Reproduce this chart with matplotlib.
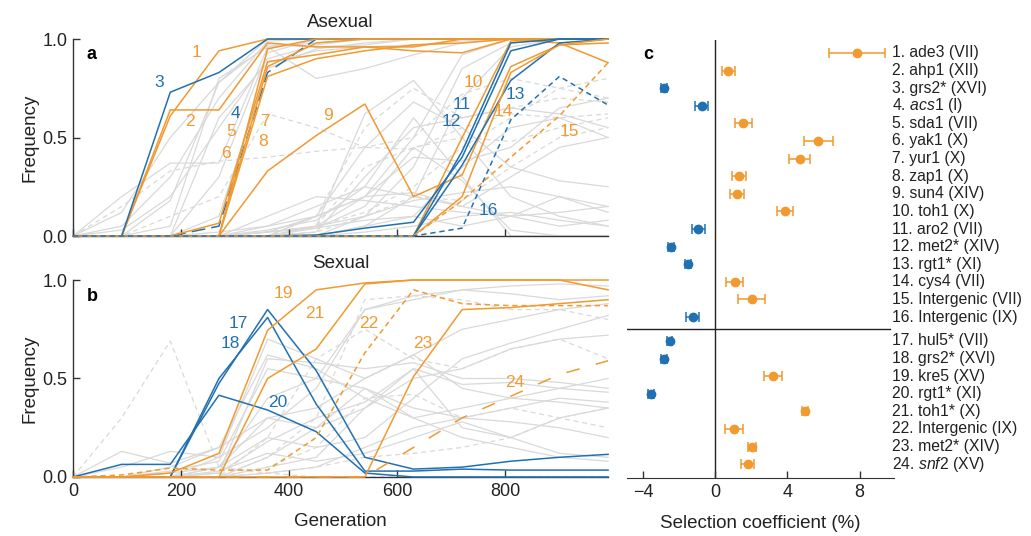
import numpy as np
import matplotlib.pyplot as plt
from matplotlib import transforms

plt.rcParams['font.family'] = ['Liberation Sans', 'DejaVu Sans']
plt.rcParams['mathtext.fontset'] = 'custom'
plt.rcParams['mathtext.rm'] = 'Liberation Sans'
plt.rcParams['mathtext.it'] = 'Liberation Sans:italic'

ORANGE = '#F09A30'
BLUE = '#2171B2'
GREY = '#D9D9D9'
fz = 13.5      # axis labels, titles
fz_tick = 13
fz_num = 12.5  # trajectory numbers
fz_mut = 11.3  # mutation names in c

# generations sampled every 90
gens = np.arange(0, 991, 90)

# --- panel a: asexual, highlighted trajectories ---
asex_1 = [0, 0, 0.61, 0.94, 1, 1, 1, 1, 1, 1, 1, 1]
asex_2 = [0, 0, 0.64, 0.64, 0.98, 0.96, 0.96, 0.94, 0.93, 1, 1, 1]
asex_3 = [0, 0, 0.73, 0.83, 1, 1, 1, 1, 1, 1, 1, 1]
asex_4 = [0, 0, 0, 0.05, 0.83, 1, 1, 1, 1, 1, 1, 1]
asex_5 = [0, 0, 0, 0, 0.95, 1, 1, 1, 1, 1, 1, 1]
asex_6 = [0, 0, 0, 0.065, 0.885, 0.92, 0.96, 0.96, 1, 1, 1, 1]
asex_7 = [0, 0, 0, 0, 0.86, 0.98, 1, 1, 1, 1, 1, 1]
asex_8 = [0, 0, 0, 0, 0.81, 0.9, 0.94, 0.97, 0.98, 1, 0.98, 0.88]
asex_9 = [0, 0, 0, 0, 0.33, 0.51, 0.67, 0.2, 0.31, 0.86, 0.97, 0.98]
asex_10 = [0, 0, 0, 0, 0, 0, 0, 0, 0.5, 0.99, 1, 1]
asex_11 = [0, 0, 0, 0, 0, 0, 0, 0, 0.43, 0.98, 1, 1]
asex_12 = [0, 0, 0, 0, 0, 0.005, 0.04, 0.07, 0.4, 0.94, 1, 1]
asex_13 = [0, 0, 0, 0, 0, 0, 0, 0, 0.36, 0.79, 0.98, 1]
asex_14 = [0, 0, 0, 0, 0, 0, 0, 0, 0.2, 0.83, 0.97, 1]
asex_15 = [0, 0, 0, 0, 0, 0, 0, 0, 0.18, 0.4, 0.61, 0.88]
asex_16 = [0, 0, 0, 0, 0, 0, 0, 0, 0.04, 0.59, 0.81, 0.665]
asex_lines = [asex_1, asex_2, asex_3, asex_4, asex_5, asex_6, asex_7, asex_8,
              asex_9, asex_10, asex_11, asex_12, asex_13, asex_14, asex_15, asex_16]

# background (grey) trajectories, asexual
asex_grey = [
    [0, 0.12, 0.50, 0.78, 1, 1, 1, 1, 1, 1, 1, 1],
    [0, 0.05, 0.30, 0.70, 0.99, 1, 1, 1, 1, 1, 1, 1],
    [0, 0.2, 0.37, 0.37, 0.96, 0.98, 1, 1, 1, 1, 1, 1],
    [0, 0, 0.18, 0.78, 0.97, 0.96, 0.97, 1, 1, 1, 1, 1],
    [0, 0, 0.05, 0.80, 0.96, 0.80, 0.85, 0.92, 0.98, 1, 1, 1],
    [0, 0, 0, 0.30, 0.93, 1, 1, 1, 1, 1, 1, 1],
    [0, 0, 0, 0.6, 0.88, 0.94, 0.96, 0.97, 0.99, 1, 1, 1],
    [0, 0.03, 0.2, 0.55, 0.9, 0.97, 1, 1, 1, 1, 1, 1],
    [0, 0, 0, 0.1, 0.85, 0.95, 0.98, 1, 1, 1, 1, 1],
    [0, 0, 0, 0, 0, 0.05, 0.62, 0.79, 0.5, 0.2, 0.1, 0.05],
    [0, 0, 0, 0, 0.02, 0.1, 0.45, 0.68, 0.55, 0.35, 0.28, 0.25],
    [0, 0, 0, 0, 0, 0.02, 0.3, 0.55, 0.6, 0.65, 0.62, 0.55],
    [0, 0, 0, 0, 0.05, 0.1, 0.2, 0.5, 0.92, 1, 1, 1],
    [0, 0, 0, 0, 0, 0, 0.1, 0.35, 0.85, 0.98, 1, 1],
    [0, 0, 0, 0, 0, 0, 0.05, 0.2, 0.7, 0.96, 1, 1],
    [0, 0, 0, 0, 0, 0.04, 0.15, 0.45, 0.28, 0.03, 0, 0],
    [0, 0, 0, 0, 0.03, 0.08, 0.25, 0.6, 0.3, 0, 0, 0],
    [0, 0, 0, 0, 0, 0.1, 0.2, 0.4, 0.38, 0.45, 0.65, 0.7],
    [0, 0, 0, 0, 0, 0, 0.05, 0.1, 0.35, 0.55, 0.6, 0.5],
    [0, 0, 0, 0, 0.02, 0.05, 0.2, 0.22, 0.15, 0.3, 0.45, 0.5],
    [0, 0, 0, 0, 0.1, 0.2, 0.18, 0.15, 0.12, 0.1, 0.12, 0.15],
    [0, 0, 0, 0.02, 0.05, 0.15, 0.25, 0.2, 0.15, 0.1, 0.05, 0.08],
    [0, 0, 0, 0, 0, 0.05, 0.1, 0.18, 0.22, 0.25, 0.2, 0.15],
    [0, 0, 0, 0, 0.02, 0.04, 0.08, 0.1, 0.05, 0.1, 0.2, 0.12],
    [0, 0, 0, 0, 0, 0, 0.02, 0.05, 0.1, 0.12, 0.08, 0.05],
]
asex_grey_dashed = [
    [0, 0.15, 0.33, 0.38, 0.40, 0.43, 0.45, 0.44, 0.55, 0.62, 0.6, 0.62],
    [0, 0, 0.1, 0.2, 0.62, 0.55, 0.45, 0.5, 0.72, 0.8, 0.75, 0.7],
    [0, 0, 0, 0, 0, 0.1, 0.55, 0.75, 0.6, 0.65, 0.7, 0.68],
    [0, 0, 0, 0, 0, 0.05, 0.35, 0.45, 0.5, 0.48, 0.55, 0.6],
    [0, 0, 0, 0, 0.02, 0.05, 0.12, 0.25, 0.45, 0.6, 0.75, 0.8],
    [0, 0, 0, 0, 0, 0.02, 0.1, 0.2, 0.18, 0.35, 0.5, 0.55],
]

# --- panel b: sexual ---
sex_17 = [0, 0, 0, 0.475, 0.85, 0.54, 0.10, 0.04, 0.05, 0.08, 0.10, 0.115]
sex_18 = [0, 0, 0, 0.50, 0.81, 0.37, 0.03, 0.03, 0.04, 0.035, 0.035, 0.035]
sex_19 = [0, 0, 0.02, 0.12, 0.745, 0.95, 0.985, 1, 1, 1, 1, 0.95]
sex_20 = [0, 0.064, 0.064, 0.415, 0.34, 0.23, 0.02, 0, 0, 0, 0, 0]
sex_21 = [0, 0, 0, 0, 0.50, 0.65, 0.98, 1, 1, 1, 1, 1]
sex_22 = [0, 0.01, 0.045, 0.035, 0.035, 0.2, 0.63, 0.95, 0.88, 0.87, 0.87, 0.87]
sex_23 = [0, 0, 0, 0, 0, 0, 0, 0.51, 0.85, 0.86, 0.88, 0.90]
sex_24 = [0, 0, 0, 0, 0, 0, 0, 0.15, 0.30, 0.41, 0.52, 0.59]
sex_lines = [sex_17, sex_18, sex_19, sex_20, sex_21, sex_22, sex_23, sex_24]

sex_grey = [
    [0, 0.13, 0.07, 0.15, 0.62, 0.55, 0.4, 0.3, 0.35, 0.4, 0.38, 0.35],
    [0, 0.05, 0.13, 0.1, 0.7, 0.6, 0.5, 0.62, 0.45, 0.4, 0.45, 0.5],
    [0, 0, 0.02, 0.05, 0.4, 0.5, 0.85, 0.9, 0.95, 0.97, 0.98, 0.97],
    [0, 0, 0.05, 0.15, 0.3, 0.35, 0.5, 0.62, 0.75, 0.8, 0.85, 0.88],
    [0, 0, 0, 0.1, 0.25, 0.45, 0.85, 0.92, 0.95, 0.93, 0.9, 0.92],
    [0, 0, 0, 0.05, 0.2, 0.15, 0.2, 0.4, 0.6, 0.68, 0.75, 0.82],
    [0, 0, 0, 0.02, 0.18, 0.3, 0.38, 0.55, 0.47, 0.48, 0.45, 0.43],
    [0, 0, 0, 0.05, 0.3, 0.25, 0.35, 0.55, 0.25, 0.2, 0.3, 0.35],
    [0, 0, 0.03, 0.08, 0.55, 0.5, 0.45, 0.35, 0.3, 0.28, 0.25, 0.2],
    [0, 0, 0, 0, 0.1, 0.25, 0.45, 0.3, 0.2, 0.15, 0.1, 0.08],
    [0, 0, 0, 0, 0.05, 0.1, 0.35, 0.5, 0.55, 0.65, 0.7, 0.72],
    [0, 0, 0, 0.03, 0.12, 0.08, 0.12, 0.2, 0.28, 0.2, 0.12, 0.1],
    [0, 0, 0, 0, 0.02, 0.05, 0.15, 0.25, 0.3, 0.35, 0.4, 0.38],
    [0, 0, 0, 0.02, 0.6, 0.58, 0.55, 0.58, 0.5, 0.5, 0.48, 0.45],
]
sex_grey_dashed = [
    [0, 0.3, 0.69, 0.05, 0.02, 0, 0, 0, 0, 0, 0, 0],
    [0, 0, 0, 0, 0.1, 0.3, 0.9, 0.92, 0.9, 0.85, 0.85, 0.8],
    [0, 0, 0, 0, 0.2, 0.6, 0.75, 0.6, 0.55, 0.65, 0.7, 0.6],
    [0, 0, 0, 0, 0.05, 0.15, 0.4, 0.42, 0.3, 0.35, 0.3, 0.25],
    [0, 0, 0, 0, 0.02, 0.05, 0.1, 0.12, 0.15, 0.2, 0.3, 0.35],
]

# --- panel c: selection coefficients (%) ---
mut_labels = ['1. ade3 (VII)', '2. ahp1 (XII)', '3. grs2* (XVI)', r'4. $\it{acs1}$ (I)',
              '5. sda1 (VII)', '6. yak1 (X)', '7. yur1 (X)', '8. zap1 (X)',
              '9. sun4 (XIV)', '10. toh1 (X)', '11. aro2 (VII)', '12. met2* (XIV)',
              '13. rgt1* (XI)', '14. cys4 (VII)', '15. Intergenic (VII)', '16. Intergenic (IX)',
              '17. hul5* (VII)', '18. grs2* (XVI)', '19. kre5 (XV)', '20. rgt1* (XI)',
              '21. toh1* (X)', '22. Intergenic (IX)', '23. met2* (XIV)', r'24. $\it{snf2}$ (XV)']
sel_coef = [7.85, 0.72, -2.83, -0.76, 1.56, 5.72, 4.67, 1.33, 1.22, 3.87, -0.94, -2.46,
            -1.5, 1.07, 2.02, -1.26, -2.52, -2.83, 3.2, -3.57, 4.98, 1.04, 2.04, 1.8]
sel_err = [1.55, 0.37, 0.15, 0.34, 0.48, 0.82, 0.6, 0.4, 0.4, 0.46, 0.35, 0.15,
           0.15, 0.45, 0.76, 0.37, 0.15, 0.15, 0.49, 0.15, 0.15, 0.48, 0.2, 0.37]

fig = plt.figure(figsize=(10.31, 5.36), dpi=100)
ax_a = fig.add_axes([0.0708, 0.5597, 0.519, 0.3675])
ax_b = fig.add_axes([0.0708, 0.1101, 0.519, 0.3675])
ax_c = fig.add_axes([0.608, 0.108, 0.259, 0.8175])


def style_traj_axes(ax, xlabels):
    ax.set_xlim(0, 990)
    ax.set_ylim(0, 1)
    for s in ['top', 'right']:
        ax.spines[s].set_visible(False)
    for s in ['left', 'bottom']:
        ax.spines[s].set_color('#333333')
        ax.spines[s].set_linewidth(1.0)
    ax.set_xticks([0, 200, 400, 600, 800])
    ax.set_yticks([0, 0.5, 1.0])
    ax.set_yticklabels(['0.0', '0.5', '1.0'])
    ax.tick_params(direction='in', length=5, width=1, color='#333333',
                   labelsize=fz_tick, pad=4, labelcolor='#222222')
    if not xlabels:
        ax.set_xticklabels([])
    ax.set_ylabel('Frequency', fontsize=fz, labelpad=3, color='#222222')


def draw_lines(ax, grey, grey_dashed, lines, colors, dashes):
    for g in grey:
        ax.plot(gens, g, color=GREY, lw=0.9, zorder=1, clip_on=False)
    for g in grey_dashed:
        ax.plot(gens, g, color=GREY, lw=0.9, dashes=(4, 3), zorder=1, clip_on=False)
    for vals, c, d in zip(lines, colors, dashes):
        ln, = ax.plot(gens, vals, color=c, lw=1.1, zorder=3, clip_on=False)
        if d is not None:
            ln.set_dashes(d)


# panel a
asex_colors = [ORANGE, ORANGE, BLUE, BLUE, ORANGE, ORANGE, ORANGE, ORANGE,
               ORANGE, ORANGE, BLUE, BLUE, BLUE, ORANGE, ORANGE, BLUE]
asex_dashes = [None, None, None, (9, 4), None, None, None, None,
               None, None, None, None, None, None, (3.5, 2.5), (3.5, 2.5)]
draw_lines(ax_a, asex_grey, asex_grey_dashed, asex_lines, asex_colors, asex_dashes)
style_traj_axes(ax_a, False)
ax_a.set_title('Asexual', fontsize=fz, pad=9, color='#222222')
ax_a.text(0.026, 0.92, 'a', transform=ax_a.transAxes, fontsize=fz - 0.5,
          fontweight='bold', va='center')

# label positions (generation, frequency)
asex_label_pos = [(229, 0.93), (217, 0.58), (159, 0.78), (300, 0.62), (292, 0.53),
                  (283, 0.42), (355, 0.58), (352, 0.48), (472, 0.61), (741, 0.78),
                  (719, 0.67), (700, 0.58), (819, 0.72), (796, 0.63), (918, 0.53),
                  (769, 0.13)]
for i, (gx, gy) in enumerate(asex_label_pos):
    ax_a.text(gx, gy, str(i + 1), color=asex_colors[i], fontsize=fz_num,
              ha='center', va='center', zorder=5)

# panel b
sex_colors = [BLUE, BLUE, ORANGE, BLUE, ORANGE, ORANGE, ORANGE, ORANGE]
sex_dashes = [None, None, None, None, None, (3.5, 2.5), None, (9, 11)]
draw_lines(ax_b, sex_grey, sex_grey_dashed, sex_lines, sex_colors, sex_dashes)
style_traj_axes(ax_b, True)
ax_b.set_title('Sexual', fontsize=fz, pad=9, color='#222222')
ax_b.set_xlabel('Generation', fontsize=fz, labelpad=10, color='#222222')
ax_b.text(0.026, 0.914, 'b', transform=ax_b.transAxes, fontsize=fz - 0.5,
          fontweight='bold', va='center')

sex_label_pos = [(306, 0.78), (291, 0.68), (389, 0.93), (378, 0.38), (448, 0.83),
                 (548, 0.78), (648, 0.68), (817, 0.48)]
for i, (gx, gy) in enumerate(sex_label_pos):
    ax_b.text(gx, gy, str(i + 17), color=sex_colors[i], fontsize=fz_num,
              ha='center', va='center', zorder=5)

# panel c
rows = np.array([i + 1 if i < 16 else i + 1.36 for i in range(24)])
for yv, s, e in zip(rows, sel_coef, sel_err):
    c = ORANGE if s > 0 else BLUE
    ax_c.errorbar(s, yv, xerr=e, fmt='o', color=c, ms=6, capsize=3.5,
                  elinewidth=1.1, capthick=1.1, zorder=3)
ax_c.set_xlim(-4.9, 9.9)
ax_c.set_ylim(25.15, 0.26)
ax_c.axvline(0, color='#222222', lw=1.0, zorder=1)
ax_c.axhline(16.68, xmin=0, xmax=0.985, color='#222222', lw=1.0, zorder=1)
for s in ['top', 'right', 'left']:
    ax_c.spines[s].set_visible(False)
ax_c.spines['bottom'].set_color('#333333')
ax_c.set_yticks([])
ax_c.set_xticks([-4, 0, 4, 8])
ax_c.tick_params(axis='x', direction='in', length=5, width=1, color='#333333',
                 labelsize=fz_tick, pad=4, labelcolor='#222222')
ax_c.set_xlabel('Selection coefficient (%)', fontsize=fz, labelpad=10, color='#222222')
trans = transforms.blended_transform_factory(ax_c.transAxes, ax_c.transData)
ax_c.text(0.06, 1.1, 'c', transform=trans, fontsize=fz - 0.5, fontweight='bold',
          va='center')

for yv, lab in zip(rows, mut_labels):
    ax_c.text(0.993, yv, lab, transform=trans, fontsize=fz_mut, ha='left',
              va='center', color='#222222')

plt.savefig('out.png', dpi=100)
